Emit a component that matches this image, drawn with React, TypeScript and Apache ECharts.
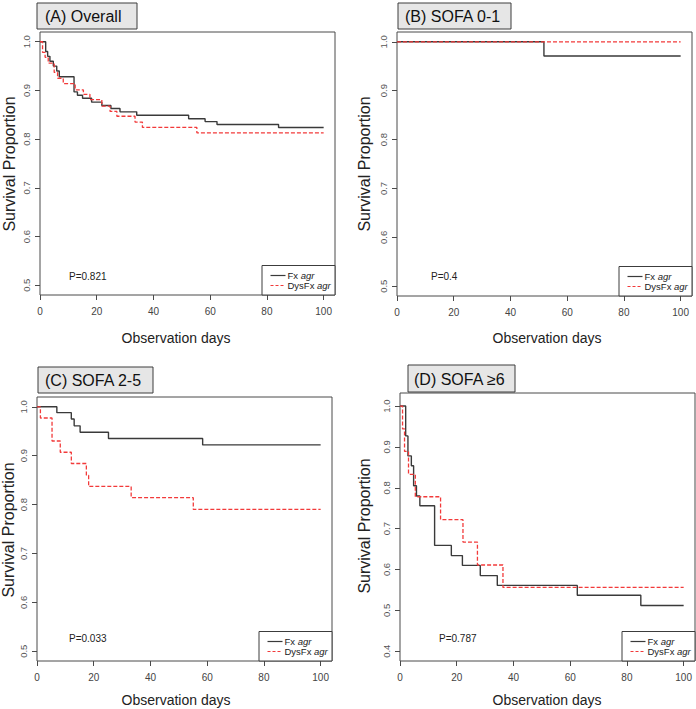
import React, { useEffect, useRef } from 'react';
import * as echarts from 'echarts';

// ---------- data ----------
const xTicks = [0, 20, 40, 60, 80, 100];
const yTicksABC = [0.5, 0.6, 0.7, 0.8, 0.9, 1.0];
const yTicksD = [0.4, 0.5, 0.6, 0.7, 0.8, 0.9, 1.0];

const panelTitles = ['(A) Overall', '(B) SOFA 0-1', '(C) SOFA 2-5', '(D) SOFA \u22656'];
const pValues = ['P=0.821', 'P=0.4', 'P=0.033', 'P=0.787'];
const groupNames = ['Fx', 'DysFx'];
const groupSuffix = 'agr';
const xTitle = 'Observation days';
const yTitle = 'Survival Proportion';

const aFxDays = [0, 2, 2.7, 3.5, 4.7, 5.9, 6.8, 12, 13.2, 15, 18.2, 21.8, 25, 28.2, 34.1, 52.4, 58.2, 62.4, 84.1, 100];
const aFxSurv = [1, 0.98, 0.97, 0.96, 0.95, 0.94, 0.928, 0.897, 0.89, 0.884, 0.876, 0.869, 0.863, 0.856, 0.849, 0.842, 0.836, 0.83, 0.824, 0.824];
const aDysDays = [0, 0.9, 1.8, 2.9, 5, 6.2, 8.2, 12.4, 15.3, 17.6, 21.8, 24.7, 27.1, 33.5, 36.1, 55.3, 100];
const aDysSurv = [1, 0.978, 0.968, 0.956, 0.937, 0.925, 0.914, 0.901, 0.892, 0.881, 0.868, 0.857, 0.847, 0.835, 0.824, 0.813, 0.813];

const bFxDays = [0, 51.8, 100];
const bFxSurv = [1, 0.971, 0.971];
const bDysDays = [0, 100];
const bDysSurv = [1, 1];

const cFxDays = [0, 7, 12.1, 13.1, 15.2, 25.2, 58.4, 100];
const cFxSurv = [1, 0.988, 0.975, 0.961, 0.948, 0.935, 0.922, 0.922];
const cDysDays = [0, 1.2, 5.3, 8.2, 12.1, 17.4, 18.2, 33.2, 55.1, 100];
const cDysSurv = [1, 0.977, 0.93, 0.907, 0.884, 0.86, 0.837, 0.814, 0.79, 0.79];

const dFxDays = [0, 2, 2.8, 4, 4.8, 5.8, 7, 12.2, 18.1, 22, 28.3, 34.3, 62.5, 84.9, 100];
const dFxSurv = [1, 0.927, 0.878, 0.854, 0.805, 0.78, 0.756, 0.659, 0.634, 0.61, 0.585, 0.561, 0.537, 0.512, 0.512];
const dDysDays = [0, 0.9, 1.6, 3, 5.4, 14.3, 22.2, 27.3, 36.3, 100];
const dDysSurv = [1, 0.944, 0.889, 0.833, 0.778, 0.722, 0.667, 0.611, 0.556, 0.556];

const fxSeries = [[aFxDays, aFxSurv], [bFxDays, bFxSurv], [cFxDays, cFxSurv], [dFxDays, dFxSurv]];
const dysSeries = [[aDysDays, aDysSurv], [bDysDays, bDysSurv], [cDysDays, cDysSurv], [dDysDays, dDysSurv]];
const yTickSets = [yTicksABC, yTicksABC, yTicksABC, yTicksD];

// ---------- layout ----------
const layout = [
  { left: 40, top: 32, width: 295, height: 263, ymin: 0.48, ymax: 1.02, tb: { x: 37, y: 3, w: 100, h: 26, tx: 45 }, p: { x: 69, y: 276 }, xt: { x: 176, y: 338 }, yt: { x: 9, y: 164 } },
  { left: 397, top: 32, width: 295, height: 264, ymin: 0.48, ymax: 1.02, tb: { x: 398, y: 3, w: 113, h: 26, tx: 405 }, p: { x: 431, y: 276 }, xt: { x: 547, y: 338 }, yt: { x: 364, y: 164 } },
  { left: 37, top: 397, width: 295, height: 264, ymin: 0.48, ymax: 1.02, tb: { x: 38, y: 367, w: 115, h: 26, tx: 45 }, p: { x: 69, y: 638 }, xt: { x: 176, y: 700 }, yt: { x: 8, y: 530 } },
  { left: 400, top: 393, width: 295, height: 268, ymin: 0.376, ymax: 1.032, tb: { x: 408, y: 365, w: 107, h: 27, tx: 414 }, p: { x: 439, y: 638 }, xt: { x: 547, y: 700 }, yt: { x: 364, y: 526 } },
];

const FONT = 'Liberation Sans, Arial, sans-serif';
const BLACK = '#3a3a3a';
const RED = '#f23a3a';

function zip(xs: number[], ys: number[]) {
  return xs.map((x, i) => [x, ys[i]]);
}

export default function App() {
  const ref = useRef<HTMLDivElement>(null);
  useEffect(() => {
    if (!ref.current) return;
    const chart = echarts.init(ref.current, undefined, { renderer: 'svg' });

    const grids: any[] = [];
    const xAxes: any[] = [];
    const yAxes: any[] = [];
    const series: any[] = [];
    const graphics: any[] = [];

    layout.forEach((L, i) => {
      grids.push({ left: L.left, top: L.top, width: L.width, height: L.height, show: true, borderColor: '#4a4a4a', borderWidth: 1, backgroundColor: 'transparent', containLabel: false });
      xAxes.push({
        type: 'value', gridIndex: i, min: 0, max: 104,
        axisLine: { show: false },
        axisTick: { show: true, inside: false, length: 5, customValues: xTicks, lineStyle: { color: '#4a4a4a' } },
        axisLabel: { show: true, customValues: xTicks, margin: 11, fontSize: 10, color: '#444', fontFamily: FONT },
        splitLine: { show: false },
      });
      yAxes.push({
        type: 'value', gridIndex: i, min: L.ymin, max: L.ymax,
        axisLine: { show: false },
        axisTick: { show: true, inside: false, length: 5, customValues: yTickSets[i], lineStyle: { color: '#4a4a4a' } },
        axisLabel: { show: true, customValues: yTickSets[i], rotate: 90, margin: 9, fontSize: 9.5, color: '#555', fontFamily: FONT, formatter: (v: number) => v.toFixed(1) },
        splitLine: { show: false },
      });
      series.push({
        type: 'line', name: groupNames[0], xAxisIndex: i, yAxisIndex: i, step: 'end', symbol: 'none',
        data: zip(fxSeries[i][0], fxSeries[i][1]),
        lineStyle: { color: BLACK, width: 1.4 }, z: 3,
      });
      series.push({
        type: 'line', name: groupNames[1], xAxisIndex: i, yAxisIndex: i, step: 'end', symbol: 'none',
        data: zip(dysSeries[i][0], dysSeries[i][1]),
        lineStyle: { color: RED, width: 1.3, type: [4, 2] }, z: 4,
      });

      // title box
      graphics.push({ type: 'rect', shape: { x: L.tb.x, y: L.tb.y, width: L.tb.w, height: L.tb.h }, style: { fill: '#e6e6e6', stroke: '#3c3c3c', lineWidth: 1 }, z: 10 });
      graphics.push({ type: 'text', x: L.tb.tx, y: L.tb.y + L.tb.h / 2 + 0.5, style: { text: panelTitles[i], fontSize: 16, fontFamily: FONT, fill: '#111', verticalAlign: 'middle', align: 'left' }, z: 11 });
      // p-value
      graphics.push({ type: 'text', x: L.p.x, y: L.p.y, style: { text: pValues[i], fontSize: 10, fontFamily: FONT, fill: '#222', verticalAlign: 'middle', align: 'left' }, z: 11 });
      // axis titles
      graphics.push({ type: 'text', x: L.xt.x, y: L.xt.y, style: { text: xTitle, fontSize: 14, fontFamily: FONT, fill: '#222', verticalAlign: 'middle', align: 'center' }, z: 11 });
      graphics.push({ type: 'text', x: L.yt.x, y: L.yt.y, rotation: Math.PI / 2, style: { text: yTitle, fontSize: 16, fontFamily: FONT, fill: '#222', verticalAlign: 'middle', align: 'center' }, z: 11 });
      // legend
      const lw = 73, lh = 29.5;
      const lx = L.left + L.width - lw;
      const ly = L.top + L.height - lh;
      graphics.push({ type: 'rect', shape: { x: lx, y: ly, width: lw, height: lh }, style: { fill: '#fff', stroke: '#3c3c3c', lineWidth: 1 }, z: 10 });
      [BLACK, RED].forEach((c, k) => {
        const yy = ly + 10 + k * 10;
        graphics.push({ type: 'line', shape: { x1: lx + 8.5, y1: yy, x2: lx + 23.5, y2: yy }, style: { stroke: c, lineWidth: k === 0 ? 1.2 : 1.2, lineDash: k === 0 ? null : [3, 2] }, z: 11 });
        graphics.push({
          type: 'text', x: lx + 25.5, y: yy,
          style: {
            text: '{n|' + groupNames[k] + ' }{i|' + groupSuffix + '}',
            rich: { n: { fontSize: 9.5, fontFamily: FONT, fill: '#222' }, i: { fontSize: 9.5, fontFamily: FONT, fontStyle: 'italic', fill: '#222' } },
            verticalAlign: 'middle', align: 'left',
          },
          z: 11,
        });
      });
    });

    chart.setOption({
      animation: false,
      backgroundColor: '#fff',
      grid: grids,
      xAxis: xAxes,
      yAxis: yAxes,
      series,
      graphic: graphics,
    });
    return () => chart.dispose();
  }, []);
  return <div ref={ref} style={{ position: 'fixed', left: 0, top: 0, width: 696, height: 709 }} />;
}
